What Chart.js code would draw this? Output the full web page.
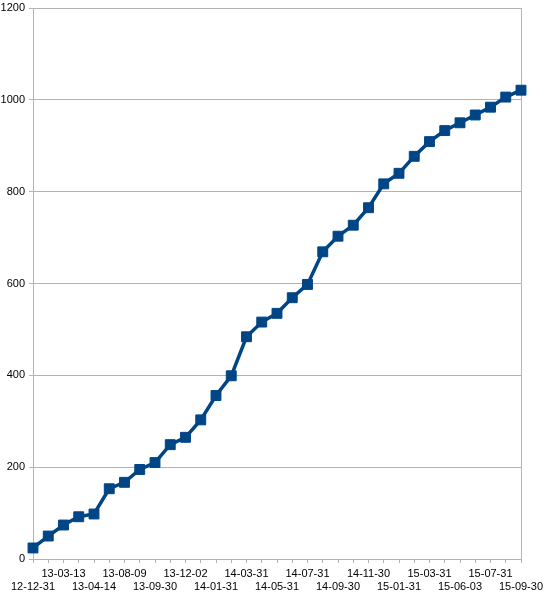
<!DOCTYPE html>
<html>
<head>
<meta charset="utf-8">
<script src="https://cdn.jsdelivr.net/npm/chart.js@4.4.1/dist/chart.umd.min.js"></script>
<style>
  html, body { margin: 0; padding: 0; background: #fff; }
  #wrap { width: 544px; height: 594px; }
</style>
</head>
<body>
<div id="wrap"><canvas id="c" width="544" height="594"></canvas></div>
<script>
const categories = [
  "12-12-31", "13-02-15", "13-03-13", "13-03-31", "13-04-14", "13-06-15",
  "13-08-09", "13-08-31", "13-09-30", "13-10-31", "13-12-02", "13-12-31",
  "14-01-31", "14-02-28", "14-03-31", "14-04-30", "14-05-31", "14-06-30",
  "14-07-31", "14-08-31", "14-09-30", "14-10-31", "14-11-30", "14-12-31",
  "15-01-31", "15-02-28", "15-03-31", "15-04-30", "15-06-03", "15-06-30",
  "15-07-31", "15-08-31", "15-09-30"
];
const values = [
  24, 50, 74, 92, 98, 153, 167, 195, 210, 249, 265,
  303, 356, 399, 484, 516, 535, 569, 598, 669, 703,
  727, 765, 817, 840, 877, 909, 933, 950, 967, 984,
  1006, 1021
];
const yTicks = [0, 200, 400, 600, 800, 1000, 1200];

const GRID = '#b3b3b3';
const BLUE = '#004586';
const FONT = { family: '"Liberation Sans", Arial, sans-serif', size: 11 };

new Chart(document.getElementById('c'), {
  type: 'line',
  data: {
    labels: categories,
    datasets: [{
      data: values,
      borderColor: BLUE,
      backgroundColor: BLUE,
      borderWidth: 3.5,
      pointStyle: 'rect',
      pointRadius: 7,
      pointBorderWidth: 1,
      pointBorderColor: BLUE,
      pointBackgroundColor: BLUE,
      tension: 0,
      fill: false
    }]
  },
  options: {
    responsive: false,
    animation: false,
    devicePixelRatio: 1,
    layout: { padding: { top: 6, right: 23, left: 0, bottom: 0 } },
    plugins: { legend: { display: false }, tooltip: { enabled: false } },
    scales: {
      x: {
        type: 'category',
        offset: false,
        grid: {
          color: ctx => (ctx.index === categories.length - 1 ? GRID : 'rgba(0,0,0,0)'),
          tickColor: GRID,
          tickLength: 4,
          lineWidth: 1
        },
        border: { display: true, color: GRID },
        ticks: {
          autoSkip: false,
          maxRotation: 0,
          minRotation: 0,
          padding: 4,
          color: '#000',
          font: FONT,
          callback: function (val, index) {
            const lab = categories[index];
            if (index % 2 === 1) return '';
            return index % 4 === 0 ? ['', lab] : [lab];
          }
        },
        afterFit: s => { s.height = 35; s.paddingLeft = 0; s.paddingRight = 0; }
      },
      y: {
        min: 0,
        max: 1200,
        afterBuildTicks: s => { s.ticks = yTicks.map(v => ({ value: v })); },
        grid: { color: GRID, tickColor: GRID, tickLength: 4, lineWidth: 1 },
        border: { display: true, color: GRID },
        ticks: { padding: 4, color: '#000', font: FONT, callback: v => String(v) },
        afterFit: s => { s.width = 33; s.paddingTop = 0; s.paddingBottom = 0; }
      }
    }
  }
});
</script>
</body>
</html>
